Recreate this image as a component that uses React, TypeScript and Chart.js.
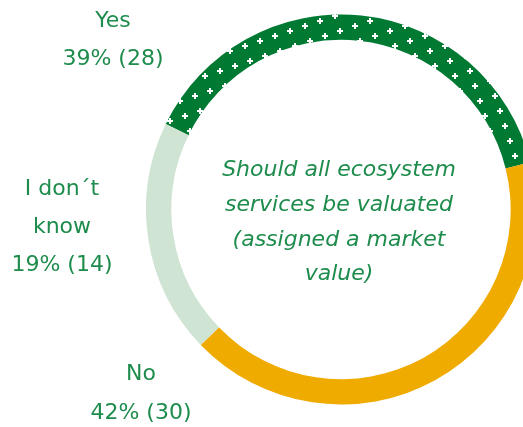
import React, { useEffect, useRef } from "react";
import { Chart, registerables } from "chart.js";

Chart.register(...registerables);

const categories = ["Yes", "No", "I don´t know"];
const values = [28, 30, 14];
const colors = ["#007A33", "#F0AB00", "#D0E4D4"];
const centerLines = ["Should all ecosystem", "services be valuated", "(assigned a market", "value)"];
const labelLines = [["Yes"], ["No"], ["I don´t", "know"]];

const TEXT_GREEN = "#1E8C4C";

function makePattern(ctx: CanvasRenderingContext2D, bg: string) {
  const s = 50;
  const t = document.createElement("canvas");
  t.width = s;
  t.height = s;
  const c = t.getContext("2d")!;
  c.fillStyle = bg;
  c.fillRect(0, 0, s, s);
  c.fillStyle = "#FFFFFF";
  const plus = (x: number, y: number) => {
    c.fillRect(x - 3, y - 1, 6, 2);
    c.fillRect(x - 1, y - 3, 2, 6);
  };
  const seen = new Set<string>();
  for (let i = 0; i < 10; i++) {
    for (let j = 0; j < 10; j++) {
      const x = (((15 * i + 5 * j) % s) + s) % s;
      const y = (((-5 * i + 15 * j) % s) + s) % s;
      const k = `${x},${y}`;
      if (seen.has(k)) continue;
      seen.add(k);
      for (const dx of [-s, 0, s]) for (const dy of [-s, 0, s]) plus(x + dx, y + dy);
    }
  }
  const p = ctx.createPattern(t, "repeat")!;
  p.setTransform(new DOMMatrix().translate(340, 31));
  return p;
}

export default function App() {
  const ref = useRef<HTMLCanvasElement>(null);
  useEffect(() => {
    const canvas = ref.current!;
    const ctx = canvas.getContext("2d")!;
    const total = values.reduce((a, b) => a + b, 0);
    const pct = values.map((v) => `${Math.round((v / total) * 100)}% (${v})`);
    const labelPos = [
      { x: 113, ys: [21, 59] },
      { x: 141, ys: [374, 413] },
      { x: 62, ys: [189, 227, 265] },
    ];
    const textPlugin = {
      id: "texts",
      afterDraw(chart: any) {
        const g = chart.ctx as CanvasRenderingContext2D;
        g.save();
        g.fillStyle = TEXT_GREEN;
        g.textAlign = "center";
        g.textBaseline = "middle";
        g.font = "22px 'DejaVu Sans'";
        categories.forEach((_, i) => {
          const lines = [...labelLines[i], pct[i]];
          const p = labelPos[i];
          lines.forEach((ln, j) => g.fillText(ln, p.x, p.ys[j]));
        });
        g.font = "oblique 22px 'DejaVu Sans'";
        const ys = [170, 205, 240, 274];
        centerLines.forEach((ln, j) => g.fillText(ln, 339, ys[j]));
        g.restore();
      },
    };
    const chart = new Chart(canvas, {
      type: "doughnut",
      data: {
        labels: categories,
        datasets: [
          {
            data: values,
            backgroundColor: [makePattern(ctx, colors[0]), colors[1], colors[2]],
            borderWidth: 0,
          },
        ],
      },
      options: {
        animation: false,
        responsive: false,
        maintainAspectRatio: false,
        rotation: 296,
        cutout: "87%",
        layout: { padding: { left: 146, right: 24, top: 14.5, bottom: 22.5 } },
        plugins: { legend: { display: false }, tooltip: { enabled: false } },
      },
      plugins: [textPlugin],
    });
    return () => chart.destroy();
  }, []);
  return (
    <div
      style={{
        position: "fixed",
        left: 0,
        top: 0,
        width: 523,
        height: 427,
        overflow: "hidden",
        background: "#fff",
      }}
    >
      <canvas ref={ref} width={560} height={427} style={{ width: 560, height: 427, display: "block" }} />
    </div>
  );
}
